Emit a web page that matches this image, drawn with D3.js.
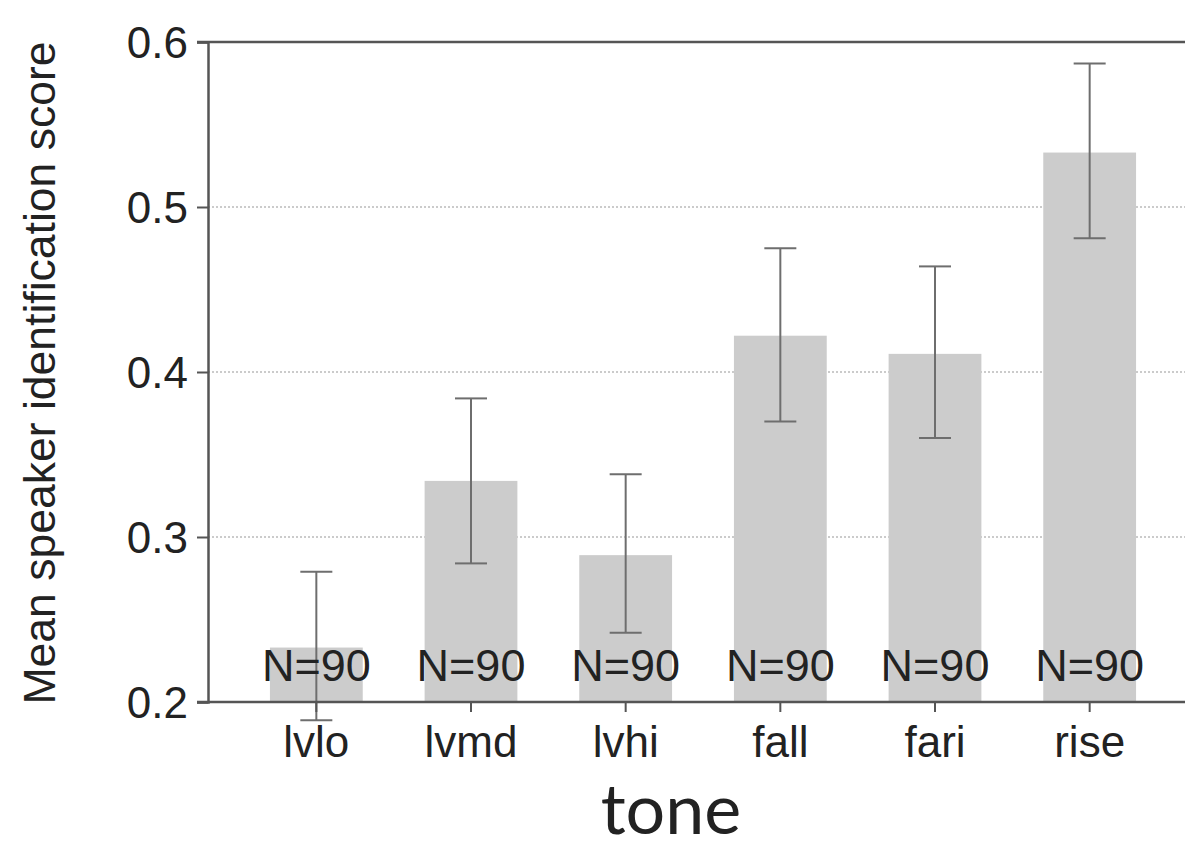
<!DOCTYPE html>
<html>
<head>
<meta charset="utf-8">
<script src="https://cdn.jsdelivr.net/npm/d3@7"></script>
<style>
  html, body { margin: 0; padding: 0; background: #fff; }
  .chart text { font-family: 'Liberation Sans', Arial, sans-serif; fill: #222; }
</style>
</head>
<body>
<div id="chart"></div>
<script>
const tones = ['lvlo', 'lvmd', 'lvhi', 'fall', 'fari', 'rise']
const means = [0.233, 0.334, 0.289, 0.422, 0.411, 0.533]
const lower = [0.189, 0.284, 0.242, 0.370, 0.360, 0.481]
const upper = [0.279, 0.384, 0.338, 0.475, 0.464, 0.587]
const counts = [90, 90, 90, 90, 90, 90]
const yTicks = [0.2, 0.3, 0.4, 0.5, 0.6]

const data = tones.map((t, i) => ({
  tone: t, mean: means[i], lo: lower[i], hi: upper[i], n: counts[i]
}))

const width = 1185
const height = 850
const plotLeft = 208
const plotRight = 1185
const plotTop = 42
const plotBottom = 702

const svg = d3.select('#chart').append('svg')
  .attr('class', 'chart')
  .attr('width', width)
  .attr('height', height)

const x = d3.scaleBand()
  .domain(tones)
  .range([239, 1167])
  .paddingInner(0.4)
  .paddingOuter(0.2)

const y = d3.scaleLinear()
  .domain([0.2, 0.6])
  .range([plotBottom, plotTop])

// dotted grid
svg.append('g')
  .selectAll('line').data(yTicks.filter(d => d > 0.2 && d < 0.6))
  .enter().append('line')
  .attr('x1', plotLeft).attr('x2', plotRight)
  .attr('y1', d => y(d)).attr('y2', d => y(d))
  .attr('stroke', '#bbb')
  .attr('stroke-width', 1.5)
  .attr('stroke-dasharray', '2,2')

// bars
svg.selectAll('.bar').data(data)
  .enter().append('rect')
  .attr('class', 'bar')
  .attr('x', d => x(d.tone))
  .attr('width', x.bandwidth())
  .attr('y', d => y(d.mean))
  .attr('height', d => y(0.2) - y(d.mean))
  .attr('fill', '#cccccc')

// error bars
const err = svg.append('g')
  .attr('stroke', '#6e6e6e')
  .attr('stroke-width', 2)
  .selectAll('g').data(data)
  .enter().append('g')
  .attr('transform', d => `translate(${x(d.tone) + x.bandwidth() / 2},0)`)

err.append('line')
  .attr('y1', d => y(d.lo)).attr('y2', d => y(d.hi))
err.append('line')
  .attr('x1', -16).attr('x2', 16)
  .attr('y1', d => y(d.hi)).attr('y2', d => y(d.hi))
err.append('line')
  .attr('x1', -16).attr('x2', 16)
  .attr('y1', d => y(d.lo)).attr('y2', d => y(d.lo))

// N labels
svg.selectAll('.nlab').data(data)
  .enter().append('text')
  .attr('class', 'nlab')
  .attr('x', d => x(d.tone) + x.bandwidth() / 2)
  .attr('y', 681)
  .attr('text-anchor', 'middle')
  .style('font-size', '45px')
  .text(d => `N=${d.n}`)

// top frame line
svg.append('line')
  .attr('x1', 197).attr('x2', plotRight)
  .attr('y1', y(0.6)).attr('y2', y(0.6))
  .attr('stroke', '#555').attr('stroke-width', 2.5)

// y axis
const yAxis = svg.append('g')
  .attr('transform', `translate(${plotLeft},0)`)
  .call(d3.axisLeft(y).tickValues(yTicks).tickFormat(d3.format('.1f')).tickSize(11).tickPadding(9))
yAxis.select('.domain').attr('stroke', '#555').attr('stroke-width', 2.5)
yAxis.selectAll('.tick line').attr('stroke', '#555').attr('stroke-width', 2)
yAxis.selectAll('.tick text')
  .style('font-size', '44px')
  .attr('fill', '#222')
  .attr('dy', '0.36em')

// x axis
const xAxis = svg.append('g')
  .attr('transform', `translate(0,${plotBottom})`)
  .call(d3.axisBottom(x).tickSize(10).tickPadding(14))
xAxis.select('.domain').remove()
xAxis.append('line')
  .attr('x1', 197).attr('x2', plotRight)
  .attr('stroke', '#555').attr('stroke-width', 2.5)
xAxis.selectAll('.tick line').attr('stroke', '#555').attr('stroke-width', 2)
xAxis.selectAll('.tick text')
  .style('font-size', '44px')
  .attr('fill', '#333')

// axis titles
svg.append('text')
  .attr('transform', `translate(55,373) rotate(-90)`)
  .attr('text-anchor', 'middle')
  .style('font-size', '44.5px')
  .attr('fill', '#333')
  .text('Mean speaker identification score')

svg.append('text')
  .attr('x', 671)
  .attr('y', 834)
  .attr('text-anchor', 'middle')
  .style('font-family', 'Lato, "Open Sans", sans-serif')
  .style('font-size', '70px')
  .attr('fill', '#111')
  .text('tone')
</script>
</body>
</html>
